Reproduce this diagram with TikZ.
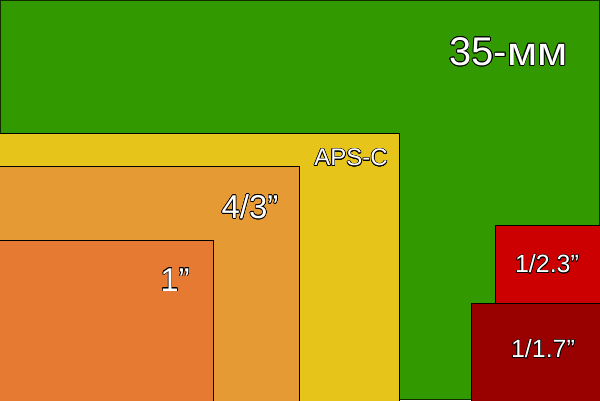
\documentclass[tikz,border=0pt]{standalone}
\usepackage{fontspec}
\setmainfont{Liberation Sans}
\usepackage{contour}
\contourlength{0.6pt}
\definecolor{cgreen}{RGB}{51,153,0}
\definecolor{capsc}{RGB}{230,196,26}
\definecolor{cfour}{RGB}{230,154,51}
\definecolor{cone}{RGB}{230,122,51}
\definecolor{cred}{RGB}{204,0,0}
\definecolor{cdred}{RGB}{153,0,0}
\begin{document}
\begin{tikzpicture}[x=1pt,y=-1pt,
  sensor/.style={draw=black,line width=0.8pt},
  lbl/.style={text=white,inner sep=0pt,anchor=center}]
\useasboundingbox (0,0) rectangle (600,400);
\fill[cgreen] (0,0) rectangle (600,400);
\draw[black!70!cgreen,line width=1pt] (0.5,0.5) rectangle (599.5,399.5);
\draw[sensor,fill=capsc] (-1,133) rectangle (399,401);
\draw[sensor,fill=cfour] (-1,166) rectangle (299,401);
\draw[sensor,fill=cone] (-1,240) rectangle (213,401);
\draw[sensor,fill=cred] (495,225) rectangle (601,401);
\draw[sensor,fill=cdred] (471,303) rectangle (601,401);
\node[lbl,font=\fontsize{40}{40}\selectfont] (t35) at (508.5,52) {\contour{black}{35-\scalebox{1.1}[1]{мм}}};
\node[lbl,font=\fontsize{24}{24}\selectfont] (taps) at (351,158) {\contour{black}{APS-C}};
\node[lbl,font=\fontsize{33}{33}\selectfont] (tfour) at (250,207) {\contour{black}{4/3”}};
\node[lbl,font=\fontsize{33}{33}\selectfont] (tone) at (175,280) {\contour{black}{1”}};
\node[lbl,font=\fontsize{25}{25}\selectfont] (tred) at (547,264) {\contour{black}{1/2.3”}};
\node[lbl,font=\fontsize{25}{25}\selectfont] (tdred) at (543,349) {\contour{black}{1/1.7”}};
\end{tikzpicture}
\end{document}
